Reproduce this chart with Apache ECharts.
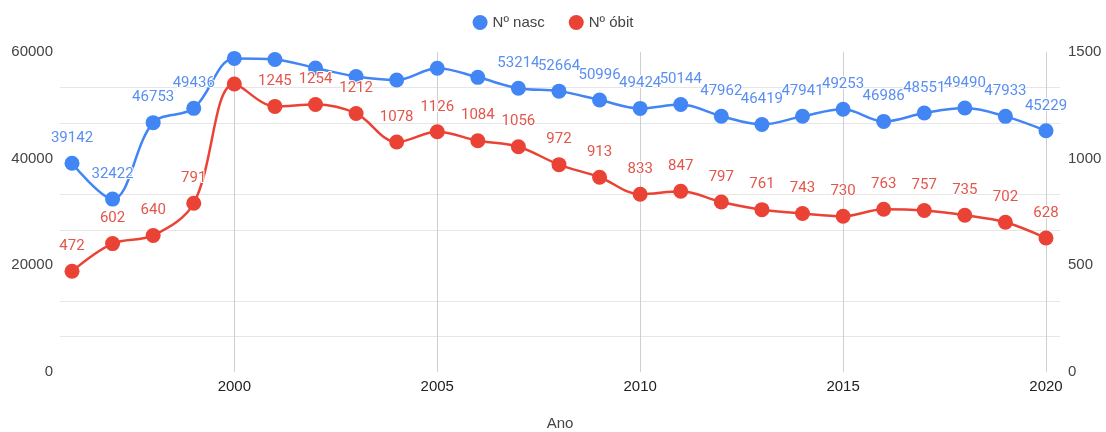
<!DOCTYPE html>
<html>
<head>
<meta charset="utf-8">
<script src="https://cdn.jsdelivr.net/npm/echarts@6/dist/echarts.min.js"></script>
<style>html,body{margin:0;padding:0;background:#fff}#c{width:1106px;height:432px}</style>
</head>
<body>
<div id="c"></div>
<script>
const years = [1996,1997,1998,1999,2000,2001,2002,2003,2004,2005,2006,2007,2008,2009,2010,2011,2012,2013,2014,2015,2016,2017,2018,2019,2020];
const nasc = [39142,32422,46753,49436,58800,58600,57000,55400,54750,56950,55250,53214,52664,50996,49424,50144,47962,46419,47941,49253,46986,48551,49490,47933,45229];
const obit = [472,602,640,791,1350,1245,1254,1212,1078,1126,1084,1056,972,913,833,847,797,761,743,730,763,757,735,702,628];
const nascHiddenLabels = [2000,2001,2002,2003,2004,2005,2006];
const obitHiddenLabels = [2000];
const xTickYears = [2000,2005,2010,2015,2020];
const leftTicks = [0,20000,40000,60000];
const rightTicks = [0,500,1000,1500];
const seriesNames = ['Nº nasc','Nº óbit'];
const xName = 'Ano';

const BLUE = '#4285F4', RED = '#EA4335';
const AX = 'Liberation Sans, Arial, sans-serif';
const LB = 'Roboto, Arial, sans-serif';

function build(vals, hidden){
  return years.map((y,i)=>({value:[y, vals[i]], label:{show: hidden.indexOf(y) < 0}}));
}
function lbl(color){
  return {show:true, position:'top', distance:10, color:color, fontSize:15, fontFamily:LB,
    textBorderColor:'#fff', textBorderWidth:2, formatter:p=>String(p.value[1])};
}
const plain = v => String(v);

const chart = echarts.init(document.getElementById('c'), null, {renderer:'canvas'});
chart.setOption({
  animation:false,
  backgroundColor:'#fff',
  legend:{top:10, left:'center', icon:'circle', itemWidth:15, itemHeight:15, itemGap:24,
    textStyle:{color:'#444', fontSize:15, fontFamily:AX}, data:seriesNames},
  grid:{left:60, right:46, top:52, bottom:60, containLabel:false, outerBoundsMode:'none'},
  xAxis:{type:'value', min:1995.7043, max:2020.345,
    name:xName, nameLocation:'middle', nameGap:44,
    nameTextStyle:{color:'#444', fontSize:15, fontFamily:AX},
    axisLine:{show:false},
    axisTick:{show:false, customValues:xTickYears},
    axisLabel:{customValues:xTickYears, color:'#222', fontSize:15, fontFamily:AX, margin:7, formatter:plain},
    splitLine:{show:true, lineStyle:{color:'#cfcfcf', width:1}}
  },
  yAxis:[
    {type:'value', min:leftTicks[0], max:leftTicks[leftTicks.length-1], interval:20000, position:'left',
     axisLine:{show:false}, axisTick:{show:false},
     axisLabel:{color:'#444', fontSize:15, fontFamily:AX, margin:7, formatter:plain},
     splitLine:{show:false},
     minorTick:{show:false, splitNumber:3},
     minorSplitLine:{show:true, lineStyle:{color:'#e6e6e6', width:1}}
    },
    {type:'value', min:rightTicks[0], max:rightTicks[rightTicks.length-1], interval:500, position:'right',
     axisLine:{show:false}, axisTick:{show:false},
     axisLabel:{color:'#444', fontSize:15, fontFamily:AX, margin:8, formatter:plain},
     splitLine:{show:false}
    }
  ],
  series:[
    {name:seriesNames[0], type:'line', yAxisIndex:0, data:build(nasc, nascHiddenLabels),
     smooth:0.35, symbol:'circle', symbolSize:15, color:BLUE,
     lineStyle:{width:2.5, color:BLUE}, itemStyle:{color:BLUE},
     label:lbl('#5a8ff0'), z:2},
    {name:seriesNames[1], type:'line', yAxisIndex:1, data:build(obit, obitHiddenLabels),
     smooth:0.35, symbol:'circle', symbolSize:15, color:RED,
     lineStyle:{width:2.5, color:RED}, itemStyle:{color:RED},
     label:lbl('#e3564b'), z:3}
  ]
});
</script>
</body>
</html>
